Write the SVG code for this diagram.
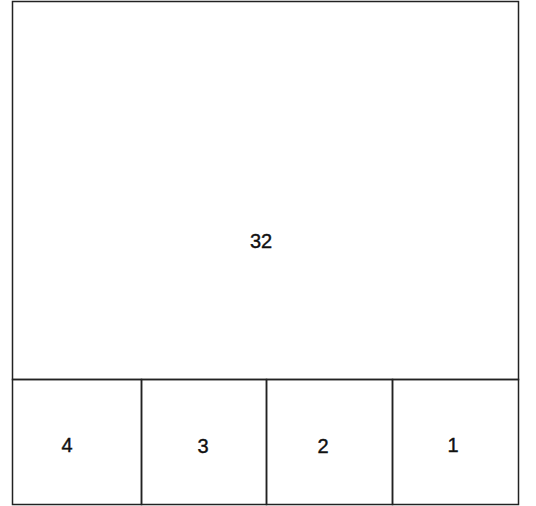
<svg xmlns="http://www.w3.org/2000/svg" width="536" height="506" viewBox="0 0 536 506">
<style>
.b{fill:none;stroke:#222;stroke-width:1.5}
.t{font-family:"Liberation Sans",Arial,sans-serif;font-size:20px;fill:#111;stroke:#111;stroke-width:0.4;text-anchor:middle}
</style>
<rect width="536" height="506" fill="#fff"/>
<g id="n32"><rect class="b" x="12.5" y="1.5" width="506" height="378"/><text class="t" x="261" y="248">32</text></g>
<g id="n4"><rect class="b" x="12.5" y="379.5" width="129" height="125"/><text class="t" x="67" y="452">4</text></g>
<g id="n3"><rect class="b" x="141.5" y="379.5" width="125" height="125"/><text class="t" x="203" y="453">3</text></g>
<g id="n2"><rect class="b" x="266.5" y="379.5" width="126" height="125"/><text class="t" x="323" y="453">2</text></g>
<g id="n1"><rect class="b" x="392.5" y="379.5" width="126" height="125"/><text class="t" x="453" y="452">1</text></g>
<g id="connectors"></g>
</svg>
